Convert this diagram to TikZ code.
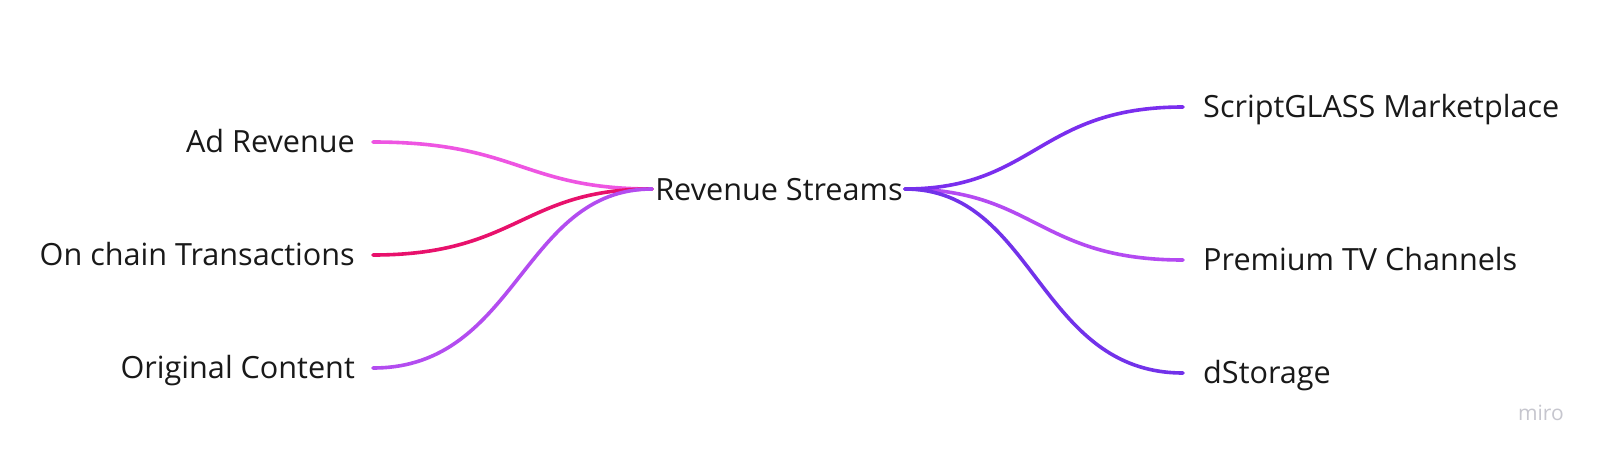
\documentclass[tikz,border=0pt]{standalone}
\usepackage{fontspec}
\setmainfont{Open Sans}
\definecolor{cAd}{HTML}{EE55E2}
\definecolor{cChain}{HTML}{E8116C}
\definecolor{cOrig}{HTML}{B34CF0}
\definecolor{cScript}{HTML}{7A2EEE}
\definecolor{cPrem}{HTML}{B44AF2}
\definecolor{cStor}{HTML}{7232EA}
\definecolor{cMiro}{HTML}{C6C6CE}
\begin{document}
\begin{tikzpicture}[x=1pt,y=-1pt,
  lbl/.style={inner sep=0pt,font=\fontsize{30.6}{36}\selectfont,text=black!90},
  leftlbl/.style={lbl,anchor=base east},
  rightlbl/.style={lbl,anchor=base west},
  branch/.style={line width=3.6pt,line cap=round}]
\useasboundingbox (0,0) rectangle (1600,458);
\fill[white] (0,0) rectangle (1600,458);
% nodes
\node[lbl,anchor=base] (root) at (779,200) {Revenue Streams};
\node[leftlbl] (ad) at (355,152) {Ad Revenue};
\node[leftlbl] (chain) at (355,265) {On chain Transactions};
\node[leftlbl] (orig) at (355,378) {Original Content};
\node[rightlbl] (script) at (1203,117) {ScriptGLASS Marketplace};
\node[rightlbl] (prem) at (1203,270) {Premium TV Channels};
\node[rightlbl] (stor) at (1203,383) {dStorage};
% anchor points for connectors
\coordinate (rootL) at (652,189);
\coordinate (rootR) at (905,189);
\coordinate (adE) at (373,142);
\coordinate (chainE) at (373,255);
\coordinate (origE) at (373,368);
\coordinate (scriptW) at (1183,107);
\coordinate (premW) at (1183,260);
\coordinate (storW) at (1183,373);
% connectors
\draw[branch,cAd] (adE) .. controls +(145,0) and +(-130,0) .. (rootL);
\draw[branch,cChain] (chainE) .. controls +(145,0) and +(-130,0) .. (rootL);
\draw[branch,cOrig] (origE) .. controls +(145,0) and +(-130,0) .. (rootL);
\draw[branch,cPrem] (rootR) .. controls +(130,0) and +(-145,0) .. (premW);
\draw[branch,cScript] (rootR) .. controls +(130,0) and +(-145,0) .. (scriptW);
\draw[branch,cStor] (rootR) .. controls +(130,0) and +(-145,0) .. (storW);
% watermark
\node[inner sep=0pt,anchor=base east,text=cMiro,font=\fontsize{21}{24}\selectfont] (miro) at (1564,420) {miro};
\end{tikzpicture}
\end{document}
